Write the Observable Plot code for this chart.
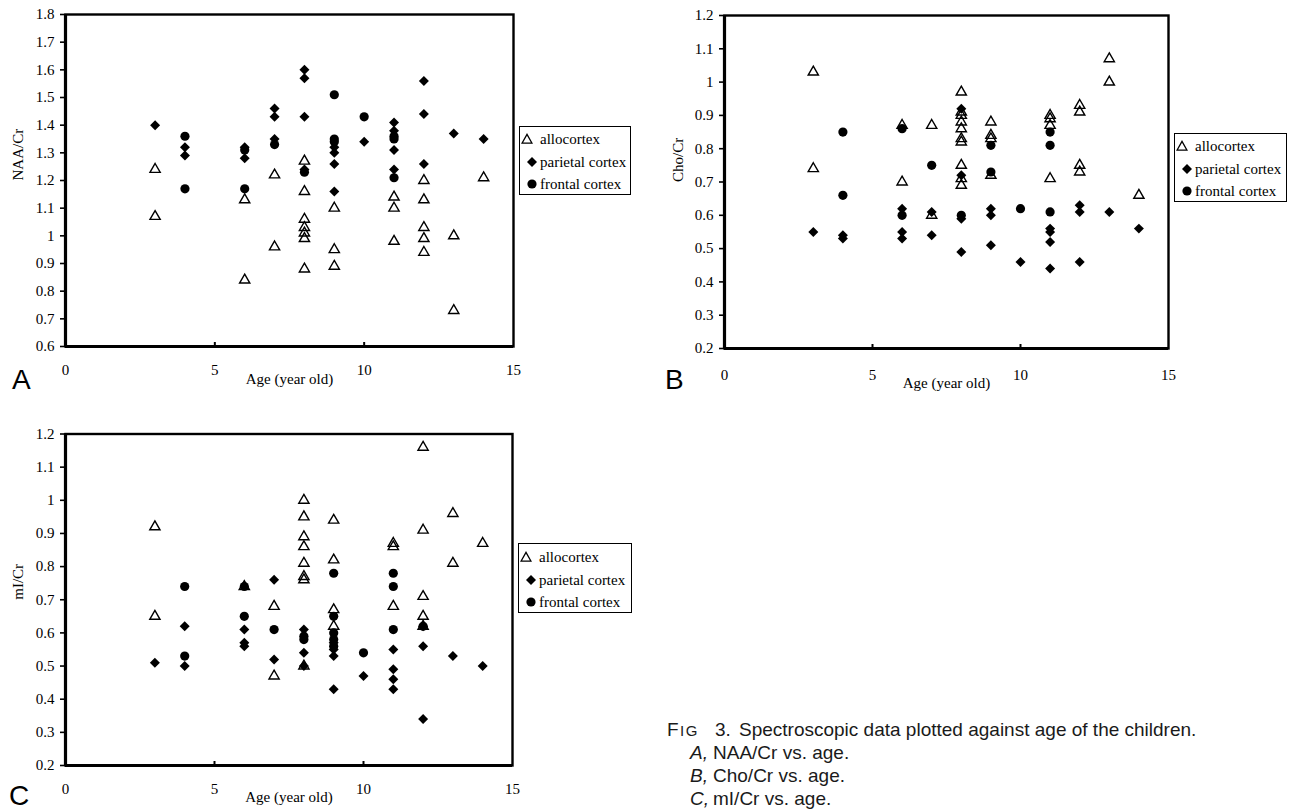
<!DOCTYPE html>
<html>
<head>
<meta charset="utf-8">
<script src="https://cdn.jsdelivr.net/npm/d3@7"></script>
<script src="https://cdn.jsdelivr.net/npm/@observablehq/plot@0.6"></script>
<style>
  html, body { margin: 0; padding: 0; background: #fff; }
  #root { position: relative; width: 1291px; height: 812px; overflow: hidden; background: #fff;
          font-family: "Liberation Serif", "Times New Roman", serif; color: #000; }
  .panel { position: absolute; }
  .letter { position: absolute; font-family: "Liberation Sans", Arial, sans-serif; font-size: 28px; line-height: 28px; color: #000; }
  .legend { position: absolute; box-sizing: border-box; border: 1px solid #000; background: #fff;
            font-family: "Liberation Serif", "Times New Roman", serif; font-size: 15px; }
  .legend .row { position: absolute; left: 0; height: 16px; line-height: 16px; white-space: nowrap; }
  .legend svg { position: absolute; top: 2px; }
  .legend span { position: absolute; top: 0; }
  .caption { position: absolute; font-family: "Liberation Sans", Arial, sans-serif; font-size: 19px; line-height: 23px; color: #1a1a1a; white-space: nowrap; }
  .caption span { position: absolute; top: 0; }
</style>
</head>
<body>
<div id="root"></div>
<script>
// ---------------- data: [age (years), ratio] ----------------
const seriesNames = ["allocortex", "parietal cortex", "frontal cortex"];
const xTicks = [0, 5, 10, 15];

// A: NAA/Cr
const naaAllocortex = [[3,1.24],[3,1.07],[6,1.13],[6,0.84],[7,1.22],[7,0.96],[8,1.27],[8,1.16],[8,1.06],[8,1.03],[8,1.01],[8,0.99],[8,0.88],[9,1.10],[9,0.95],[9,0.89],[11,1.14],[11,1.10],[11,0.98],[12,1.20],[12,1.13],[12,1.03],[12,0.99],[12,0.94],[13,1.00],[13,0.73],[14,1.21]];
const naaParietal = [[3,1.40],[4,1.32],[4,1.29],[6,1.32],[6,1.28],[7,1.46],[7,1.43],[7,1.35],[8,1.60],[8,1.57],[8,1.43],[8,1.24],[9,1.32],[9,1.30],[9,1.26],[9,1.16],[10,1.34],[11,1.41],[11,1.38],[11,1.31],[11,1.24],[12,1.56],[12,1.44],[12,1.26],[13,1.37],[14,1.35]];
const naaFrontal = [[4,1.36],[4,1.17],[6,1.31],[6,1.17],[7,1.33],[8,1.23],[9,1.51],[9,1.35],[9,1.34],[10,1.43],[11,1.36],[11,1.35],[11,1.21]];
const naaYTicks = [0.6,0.7,0.8,0.9,1.0,1.1,1.2,1.3,1.4,1.5,1.6,1.7,1.8];

// B: Cho/Cr
const choAllocortex = [[3,1.03],[3,0.74],[6,0.87],[6,0.70],[7,0.87],[7,0.60],[8,0.97],[8,0.91],[8,0.90],[8,0.88],[8,0.86],[8,0.83],[8,0.82],[8,0.75],[8,0.71],[8,0.69],[9,0.88],[9,0.84],[9,0.83],[9,0.72],[11,0.90],[11,0.89],[11,0.87],[11,0.71],[12,0.93],[12,0.91],[12,0.75],[12,0.73],[13,1.07],[13,1.00],[14,0.66]];
const choParietal = [[3,0.55],[4,0.54],[4,0.53],[6,0.62],[6,0.55],[6,0.53],[7,0.61],[7,0.54],[8,0.92],[8,0.72],[8,0.59],[8,0.49],[9,0.62],[9,0.60],[9,0.51],[10,0.46],[11,0.56],[11,0.55],[11,0.52],[11,0.44],[12,0.63],[12,0.61],[12,0.46],[13,0.61],[14,0.56]];
const choFrontal = [[4,0.85],[4,0.66],[6,0.86],[6,0.60],[7,0.75],[8,0.60],[9,0.81],[9,0.73],[10,0.62],[11,0.85],[11,0.81],[11,0.61]];
const choYTicks = [0.2,0.3,0.4,0.5,0.6,0.7,0.8,0.9,1.0,1.1,1.2];

// C: mI/Cr
const miAllocortex = [[3,0.92],[3,0.65],[6,0.74],[7,0.68],[7,0.47],[8,1.00],[8,0.95],[8,0.89],[8,0.86],[8,0.81],[8,0.77],[8,0.76],[8,0.50],[9,0.94],[9,0.82],[9,0.67],[9,0.62],[11,0.87],[11,0.86],[11,0.68],[12,1.16],[12,0.91],[12,0.71],[12,0.65],[12,0.62],[13,0.96],[13,0.81],[14,0.87]];
const miParietal = [[3,0.51],[4,0.62],[4,0.50],[6,0.61],[6,0.57],[6,0.56],[7,0.76],[7,0.52],[8,0.61],[8,0.54],[8,0.50],[9,0.57],[9,0.55],[9,0.53],[9,0.43],[10,0.47],[11,0.55],[11,0.49],[11,0.46],[11,0.43],[12,0.62],[12,0.56],[12,0.34],[13,0.53],[14,0.50]];
const miFrontal = [[4,0.74],[4,0.53],[6,0.74],[6,0.65],[7,0.61],[8,0.59],[8,0.58],[9,0.78],[9,0.65],[9,0.60],[9,0.58],[9,0.56],[10,0.54],[11,0.78],[11,0.74],[11,0.61],[12,0.62]];
const miYTicks = [0.2,0.3,0.4,0.5,0.6,0.7,0.8,0.9,1.0,1.1,1.2];

const xLabel = "Age (year old)";
const captionLines = [
  ["A,", "NAA/Cr vs. age."],
  ["B,", "Cho/Cr vs. age."],
  ["C,", "mI/Cr vs. age."]
];

// ---------------- drawing ----------------
const root = document.getElementById("root");
const fmt = d => String(+d.toFixed(1));

function panel(cfg) {
  const {allo, par, front, yTicks, yLabel, left, top, width, height, margin, yLabelDx, xLabelDy, xTickPad} = cfg;
  const px = d => d[0], py = d => d[1];
  const chart = Plot.plot({
    width, height,
    marginLeft: margin[3], marginRight: margin[1], marginTop: margin[0], marginBottom: margin[2],
    x: {domain: [0, 15]},
    y: {domain: [yTicks[0], yTicks[yTicks.length - 1]]},
    style: {fontFamily: "'Liberation Serif', 'Times New Roman', serif", fontSize: "15px", color: "#000", background: "transparent", overflow: "visible"},
    marks: [
      Plot.axisY({ticks: yTicks, tickSize: 5, tickPadding: 6, tickFormat: fmt, label: null, strokeWidth: 1.6, fontSize: 15}),
      Plot.axisX({ticks: xTicks, tickSize: 0, tickPadding: xTickPad, tickFormat: d => String(d), label: null, fontSize: 15}),
      Plot.axisX({ticks: [5, 10], tickSize: -4, tickPadding: 0, tickFormat: () => "", label: null, strokeWidth: 2}),
      Plot.frame({stroke: "#000", strokeWidth: 2.4}),
      Plot.ruleX([0], {stroke: "#000", strokeWidth: 3.2}),
      Plot.ruleY([yTicks[0]], {stroke: "#000", strokeWidth: 3.2}),
      Plot.dot(allo, {x: px, y: py, symbol: "triangle", r: 3.8, fill: "none", stroke: "#000", strokeWidth: 1.4}),
      Plot.dot(par, {x: px, y: py, symbol: "diamond2", r: 4.5, fill: "#000", stroke: "none"}),
      Plot.dot(front, {x: px, y: py, symbol: "circle", r: 4.6, fill: "#000", stroke: "none"}),
      Plot.text([yLabel], {frameAnchor: "left", dx: yLabelDx, rotate: -90, fontSize: 15, fill: "#000"}),
      Plot.text([xLabel], {frameAnchor: "bottom", dy: xLabelDy, fontSize: 15, fill: "#000"})
    ]
  });
  const wrap = document.createElement("div");
  wrap.className = "panel";
  wrap.style.left = left + "px";
  wrap.style.top = top + "px";
  wrap.appendChild(chart);
  root.appendChild(wrap);
}

function symbolSvg(kind) {
  const ns = "http://www.w3.org/2000/svg";
  const svg = document.createElementNS(ns, "svg");
  svg.setAttribute("width", 12);
  svg.setAttribute("height", 12);
  svg.setAttribute("viewBox", "-6 -6 12 12");
  const p = document.createElementNS(ns, "path");
  if (kind === 0) { p.setAttribute("d", "M0,-4.6L5,4.2L-5,4.2Z"); p.setAttribute("fill", "none"); p.setAttribute("stroke", "#000"); p.setAttribute("stroke-width", "1.3"); }
  else if (kind === 1) { p.setAttribute("d", "M0,-5L5,0L0,5L-5,0Z"); p.setAttribute("fill", "#000"); }
  else { p.setAttribute("d", "M4.6,0A4.6,4.6 0 1,1 -4.6,0A4.6,4.6 0 1,1 4.6,0Z"); p.setAttribute("fill", "#000"); }
  svg.appendChild(p);
  return svg;
}

function legend(left, top, width, height, rowTops, symX, textX) {
  const box = document.createElement("div");
  box.className = "legend";
  Object.assign(box.style, {left: left + "px", top: top + "px", width: width + "px", height: height + "px"});
  seriesNames.forEach((name, i) => {
    const row = document.createElement("div");
    row.className = "row";
    row.style.top = rowTops[i] + "px";
    row.style.width = "100%";
    const s = symbolSvg(i);
    s.style.left = (symX[i]) + "px";
    row.appendChild(s);
    const t = document.createElement("span");
    t.textContent = name;
    t.style.left = textX + "px";
    row.appendChild(t);
    box.appendChild(row);
  });
  root.appendChild(box);
}

function letter(txt, left, top) {
  const d = document.createElement("div");
  d.className = "letter";
  d.textContent = txt;
  d.style.left = left + "px";
  d.style.top = top + "px";
  root.appendChild(d);
}

// Panel A
panel({allo: naaAllocortex, par: naaParietal, front: naaFrontal, yTicks: naaYTicks, yLabel: "NAA/Cr",
       left: 0, top: 0, width: 640, height: 400, margin: [14, 127, 54, 65], yLabelDx: -47, xLabelDy: 37, xTickPad: 18});
// Panel B
panel({allo: choAllocortex, par: choParietal, front: choFrontal, yTicks: choYTicks, yLabel: "Cho/Cr",
       left: 660, top: 0, width: 520, height: 400, margin: [15, 12, 52, 64], yLabelDx: -46, xLabelDy: 39, xTickPad: 21});
// Panel C
panel({allo: miAllocortex, par: miParietal, front: miFrontal, yTicks: miYTicks, yLabel: "mI/Cr",
       left: 0, top: 420, width: 640, height: 392, margin: [13.5, 128, 47, 65], yLabelDx: -47, xLabelDy: 36, xTickPad: 18});

letter("A", 12, 366);
letter("B", 665, 366);
letter("C", 9, 782);

legend(519, 126, 112, 69, [4, 27, 49], [1, 6, 6], 20);
legend(1174, 133, 113, 69, [4, 27, 49], [1, 6, 6], 20);
legend(518, 543, 114, 70, [5, 28, 50], [1, 6, 6], 20);

// Caption
const cap = document.createElement("div");
cap.className = "caption";
Object.assign(cap.style, {left: "0px", top: "718px", width: "1291px", height: "94px"});
function capSpan(text, left, top, extra) {
  const s = document.createElement("span");
  s.textContent = text;
  s.style.left = left + "px";
  s.style.top = top + "px";
  if (extra) Object.assign(s.style, extra);
  cap.appendChild(s);
  return s;
}
const fig = document.createElement("span");
fig.style.left = "667px"; fig.style.top = "0px"; fig.style.letterSpacing = "1.5px";
fig.innerHTML = 'F<span style="position:static;font-size:15px">IG</span>';
cap.appendChild(fig);
capSpan("3.", 715, 0);
capSpan("Spectroscopic data plotted against age of the children.", 739, 0);
captionLines.forEach((ln, i) => {
  capSpan(ln[0], 690, 23 * (i + 1), {fontStyle: "italic"});
  capSpan(ln[1], 713, 23 * (i + 1));
});
root.appendChild(cap);
</script>
</body>
</html>
